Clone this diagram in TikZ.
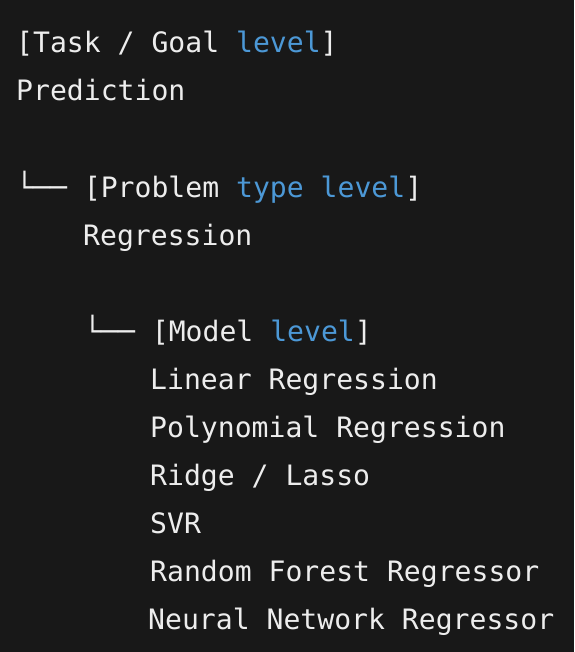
\documentclass[tikz,border=0pt]{standalone}
\usepackage{fontspec}
\setmonofont{DejaVu Sans Mono}
\usetikzlibrary{positioning}
\definecolor{codebg}{HTML}{181818}
\definecolor{codefg}{HTML}{EDEDED}
\definecolor{keyword}{HTML}{4C98D6}
\tikzset{%
  line/.style={anchor=base west,inner sep=0pt,text=codefg,font=\ttfamily\fontsize{28.1}{28.1}\selectfont}%
}
\newcommand{\kwd}[1]{\textcolor{keyword}{#1}}

\begin{document}
\begin{tikzpicture}[x=1pt,y=-1pt]
    \fill[codebg] (0,0) rectangle (574,652);
    \useasboundingbox (0,0) rectangle (574,652);

    \node (task) [line] at (16,53) {[Task / Goal \kwd{level}]};
    \node (prediction) [line] at (16,101) {Prediction};

    \node (problem) [line] at (16,197) {└── [Problem \kwd{type} \kwd{level}]};
    \node (regression) [line] at (83,245) {Regression};

    \node (model) [line] at (84,341) {└── [Model \kwd{level}]};
    \foreach \name/\txt [count=\i] in {linreg/Linear Regression,
        polyreg/Polynomial Regression, ridge/{Ridge / Lasso}, svr/SVR,
        forest/Random Forest Regressor}
      \node (\name) [line] at (150,341+48*\i) {\txt};
    \node (neural) [line] at (148,629) {Neural Network Regressor};

  \end{tikzpicture}
\end{document}
